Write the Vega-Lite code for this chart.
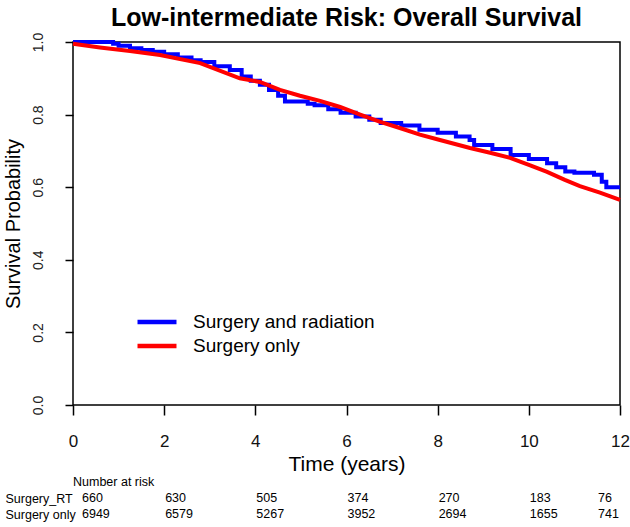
{
  "$schema": "https://vega.github.io/schema/vega-lite/v6.json",
  "autosize": "none",
  "width": 547,
  "height": 363,
  "padding": {"left": 73, "top": 42, "right": 10, "bottom": 122},
  "background": "white",
  "title": {
    "text": "Low-intermediate Risk: Overall Survival",
    "font": "Liberation Sans",
    "fontSize": 25,
    "fontWeight": "bold",
    "color": "#000000",
    "anchor": "middle",
    "frame": "group",
    "offset": 1
  },
  "config": {
    "font": "Liberation Sans",
    "view": {"stroke": "#000000", "strokeWidth": 1.5},
    "axis": {"grid": false, "domain": false}
  },
  "datasets": {
    "curves": [
      {"group": "Surgery and radiation", "time": 0, "surv": 1.0},
      {"group": "Surgery and radiation", "time": 0.88, "surv": 0.995},
      {"group": "Surgery and radiation", "time": 1.0, "surv": 0.99},
      {"group": "Surgery and radiation", "time": 1.25, "surv": 0.983},
      {"group": "Surgery and radiation", "time": 1.5, "surv": 0.978},
      {"group": "Surgery and radiation", "time": 1.75, "surv": 0.973},
      {"group": "Surgery and radiation", "time": 2.0, "surv": 0.966},
      {"group": "Surgery and radiation", "time": 2.3, "surv": 0.957},
      {"group": "Surgery and radiation", "time": 2.6, "surv": 0.95},
      {"group": "Surgery and radiation", "time": 2.8, "surv": 0.945},
      {"group": "Surgery and radiation", "time": 3.1, "surv": 0.933},
      {"group": "Surgery and radiation", "time": 3.44, "surv": 0.923},
      {"group": "Surgery and radiation", "time": 3.7, "surv": 0.905},
      {"group": "Surgery and radiation", "time": 3.9, "surv": 0.893},
      {"group": "Surgery and radiation", "time": 4.1, "surv": 0.882},
      {"group": "Surgery and radiation", "time": 4.3, "surv": 0.868},
      {"group": "Surgery and radiation", "time": 4.5, "surv": 0.852},
      {"group": "Surgery and radiation", "time": 4.65, "surv": 0.836},
      {"group": "Surgery and radiation", "time": 5.15, "surv": 0.83},
      {"group": "Surgery and radiation", "time": 5.3, "surv": 0.826},
      {"group": "Surgery and radiation", "time": 5.6, "surv": 0.815},
      {"group": "Surgery and radiation", "time": 5.87, "surv": 0.805},
      {"group": "Surgery and radiation", "time": 6.2, "surv": 0.795},
      {"group": "Surgery and radiation", "time": 6.5, "surv": 0.786},
      {"group": "Surgery and radiation", "time": 6.75, "surv": 0.777},
      {"group": "Surgery and radiation", "time": 7.2, "surv": 0.77},
      {"group": "Surgery and radiation", "time": 7.6, "surv": 0.758},
      {"group": "Surgery and radiation", "time": 8.0, "surv": 0.75},
      {"group": "Surgery and radiation", "time": 8.4, "surv": 0.74},
      {"group": "Surgery and radiation", "time": 8.7, "surv": 0.73},
      {"group": "Surgery and radiation", "time": 8.8, "surv": 0.716},
      {"group": "Surgery and radiation", "time": 9.2, "surv": 0.705},
      {"group": "Surgery and radiation", "time": 9.6, "surv": 0.689},
      {"group": "Surgery and radiation", "time": 10.0, "surv": 0.678},
      {"group": "Surgery and radiation", "time": 10.4, "surv": 0.666},
      {"group": "Surgery and radiation", "time": 10.6, "surv": 0.655},
      {"group": "Surgery and radiation", "time": 10.8, "surv": 0.643},
      {"group": "Surgery and radiation", "time": 11.0, "surv": 0.64},
      {"group": "Surgery and radiation", "time": 11.43, "surv": 0.634},
      {"group": "Surgery and radiation", "time": 11.6, "surv": 0.615},
      {"group": "Surgery and radiation", "time": 11.7, "surv": 0.6},
      {"group": "Surgery and radiation", "time": 12.0, "surv": 0.6},
      {"group": "Surgery only", "time": 0, "surv": 0.995},
      {"group": "Surgery only", "time": 0.59, "surv": 0.985},
      {"group": "Surgery only", "time": 1.25, "surv": 0.975},
      {"group": "Surgery only", "time": 1.91, "surv": 0.964},
      {"group": "Surgery only", "time": 2.79, "surv": 0.942},
      {"group": "Surgery only", "time": 3.66, "surv": 0.9},
      {"group": "Surgery only", "time": 4.1, "surv": 0.89},
      {"group": "Surgery only", "time": 4.54, "surv": 0.868},
      {"group": "Surgery only", "time": 4.98, "surv": 0.852},
      {"group": "Surgery only", "time": 5.42, "surv": 0.838},
      {"group": "Surgery only", "time": 5.86, "surv": 0.821},
      {"group": "Surgery only", "time": 6.3, "surv": 0.8},
      {"group": "Surgery only", "time": 6.74, "surv": 0.78},
      {"group": "Surgery only", "time": 7.17, "surv": 0.763},
      {"group": "Surgery only", "time": 7.61, "surv": 0.745},
      {"group": "Surgery only", "time": 8.05, "surv": 0.73},
      {"group": "Surgery only", "time": 8.71, "surv": 0.708},
      {"group": "Surgery only", "time": 9.15, "surv": 0.695},
      {"group": "Surgery only", "time": 9.59, "surv": 0.681},
      {"group": "Surgery only", "time": 10.03, "surv": 0.66},
      {"group": "Surgery only", "time": 10.4, "surv": 0.642},
      {"group": "Surgery only", "time": 10.79, "surv": 0.62},
      {"group": "Surgery only", "time": 11.12, "surv": 0.603},
      {"group": "Surgery only", "time": 11.56, "surv": 0.585},
      {"group": "Surgery only", "time": 12.0, "surv": 0.565}
    ],
    "risk": [
      {"row": "Number at risk", "time": 0, "n": "Number at risk"},
      {"row": "Surgery_RT", "time": 0, "n": "660"},
      {"row": "Surgery_RT", "time": 2, "n": "630"},
      {"row": "Surgery_RT", "time": 4, "n": "505"},
      {"row": "Surgery_RT", "time": 6, "n": "374"},
      {"row": "Surgery_RT", "time": 8, "n": "270"},
      {"row": "Surgery_RT", "time": 10, "n": "183"},
      {"row": "Surgery_RT", "time": 12, "n": "76"},
      {"row": "Surgery only", "time": 0, "n": "6949"},
      {"row": "Surgery only", "time": 2, "n": "6579"},
      {"row": "Surgery only", "time": 4, "n": "5267"},
      {"row": "Surgery only", "time": 6, "n": "3952"},
      {"row": "Surgery only", "time": 8, "n": "2694"},
      {"row": "Surgery only", "time": 10, "n": "1655"},
      {"row": "Surgery only", "time": 12, "n": "741"}
    ]
  },
  "layer": [
    {
      "data": {"name": "curves"},
      "encoding": {
        "x": {
          "field": "time", "type": "quantitative",
          "scale": {"domain": [0, 12], "nice": false, "zero": false},
          "axis": {
            "values": [0, 2, 4, 6, 8, 10, 12],
            "title": "Time (years)",
            "titleFont": "Liberation Sans",
            "titleFontSize": 21,
            "titleFontWeight": "normal",
            "titleColor": "#000000",
            "titlePadding": 4,
            "labelFont": "Liberation Sans",
            "labelFontSize": 17,
            "labelColor": "#111111",
            "labelBaseline": "middle",
            "labelPadding": 26,
            "labelFlush": false,
            "tickSize": 10,
            "tickColor": "#000000",
            "tickWidth": 1.5
          }
        },
        "y": {
          "field": "surv", "type": "quantitative",
          "scale": {"domain": [0, 1], "nice": false},
          "axis": {
            "values": [0, 0.2, 0.4, 0.6, 0.8, 1.0],
            "format": ".1f",
            "title": "Survival Probability",
            "titleFont": "Liberation Sans",
            "titleFontSize": 20,
            "titleFontWeight": "normal",
            "titleColor": "#000000",
            "titlePadding": 8,
            "labelFont": "Liberation Sans",
            "labelFontSize": 14,
            "labelColor": "#222222",
            "labelAngle": 270,
            "labelAlign": "center",
            "labelBaseline": "middle",
            "labelPadding": 27,
            "labelFlush": false,
            "tickSize": 8,
            "tickColor": "#000000",
            "tickWidth": 1.5
          }
        },
        "color": {
          "field": "group", "type": "nominal",
          "scale": {"domain": ["Surgery and radiation", "Surgery only"], "range": ["#0000FF", "#FF0000"]},
          "legend": {
            "title": null,
            "orient": "none",
            "legendX": 72,
            "legendY": 268,
            "symbolType": "M-2,0H2",
            "symbolStrokeWidth": 4.5,
            "symbolSize": 380,
            "labelFont": "Liberation Sans",
            "labelFontSize": 19,
            "labelColor": "#000000",
            "labelOffset": 24,
            "labelLimit": 400,
            "rowPadding": 2
          }
        }
      },
      "layer": [
        {
          "transform": [{"filter": "datum.group === 'Surgery and radiation'"}],
          "mark": {"type": "line", "interpolate": "step-after", "strokeWidth": 4}
        },
        {
          "transform": [{"filter": "datum.group === 'Surgery only'"}],
          "mark": {"type": "line", "interpolate": "linear", "strokeWidth": 4}
        }
      ]
    },
    {
      "data": {"name": "risk"},
      "encoding": {
        "x": {"field": "time", "type": "quantitative"},
        "y": {
          "field": "row", "type": "nominal",
          "scale": {"type": "point", "domain": ["Number at risk", "Surgery_RT", "Surgery only"], "range": [440, 472], "padding": 0}
        },
        "text": {"field": "n"}
      },
      "layer": [
        {
          "transform": [{"filter": "datum.row === 'Number at risk'"}],
          "mark": {"type": "text", "align": "left", "baseline": "middle", "font": "Liberation Sans Narrow, Arial Narrow, Liberation Sans", "fontSize": 12.5, "color": "#000000"},
          "encoding": {
            "y": {
              "field": "row", "type": "nominal",
              "scale": {"type": "point", "domain": ["Number at risk", "Surgery_RT", "Surgery only"], "range": [440, 472], "padding": 0},
              "axis": {
                "values": ["Surgery_RT", "Surgery only"],
                "orient": "left",
                "title": null,
                "domain": false,
                "ticks": false,
                "tickSize": 0,
                "labelAlign": "left",
                "labelBaseline": "middle",
                "labelPadding": 68,
                "labelFont": "Liberation Sans Narrow, Arial Narrow, Liberation Sans",
                "labelFontSize": 12.5,
                "labelColor": "#000000"
              }
            }
          }
        },
        {
          "transform": [{"filter": "datum.row !== 'Number at risk' && datum.time === 0"}],
          "mark": {"type": "text", "align": "left", "baseline": "middle", "dx": 9, "font": "Liberation Sans Narrow, Arial Narrow, Liberation Sans", "fontSize": 12.5, "color": "#000000"}
        },
        {
          "transform": [{"filter": "datum.row !== 'Number at risk' && datum.time > 0 && datum.time < 12"}],
          "mark": {"type": "text", "align": "left", "baseline": "middle", "dx": 1, "font": "Liberation Sans Narrow, Arial Narrow, Liberation Sans", "fontSize": 12.5, "color": "#000000"}
        },
        {
          "transform": [{"filter": "datum.row !== 'Number at risk' && datum.time === 12"}],
          "mark": {"type": "text", "align": "left", "baseline": "middle", "dx": -22, "font": "Liberation Sans Narrow, Arial Narrow, Liberation Sans", "fontSize": 12.5, "color": "#000000"}
        }
      ]
    }
  ],
  "resolve": {"scale": {"y": "independent"}, "axis": {"y": "independent"}}
}
